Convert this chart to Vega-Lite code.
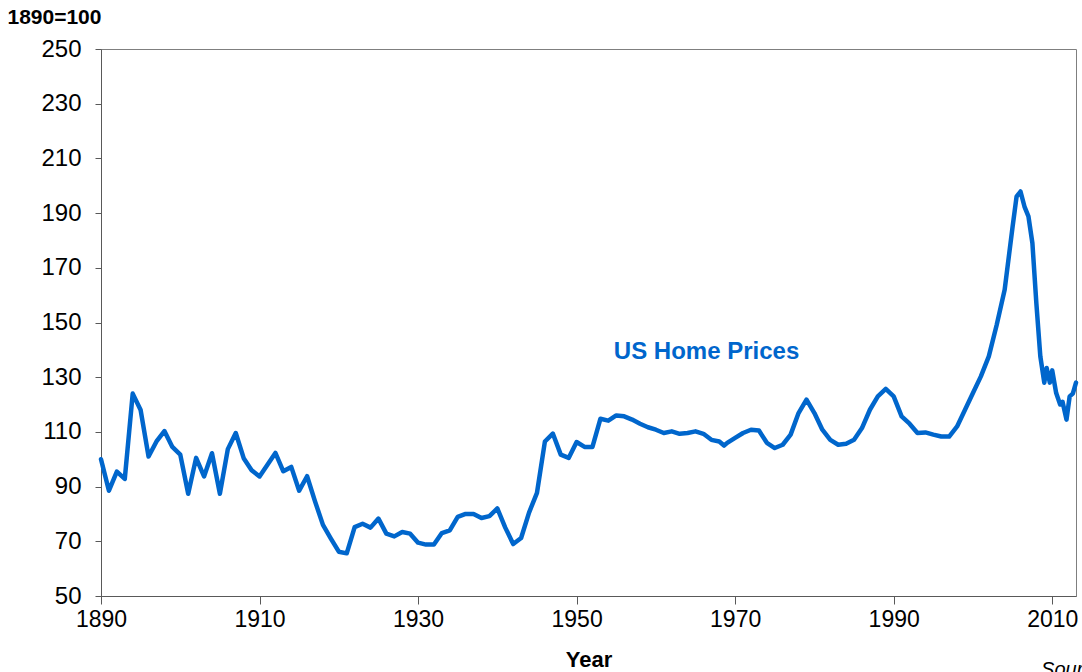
{
  "$schema": "https://vega.github.io/schema/vega-lite/v6.json",
  "width": 975,
  "height": 547,
  "autosize": {"type": "none"},
  "padding": {"left": 101, "top": 49, "right": 6, "bottom": 76},
  "background": "white",
  "config": {
    "view": {"stroke": "#7f7f7f", "strokeWidth": 1},
    "font": "Liberation Sans",
    "axis": {
      "grid": false,
      "domainColor": "#595959",
      "tickColor": "#595959",
      "labelColor": "#000000",
      "labelFont": "Liberation Sans",
      "labelFontSize": 23,
      "titleFont": "Liberation Sans",
      "titleColor": "#000000"
    }
  },
  "data": {
    "values": [
      {"year": 1890, "value": 100}, {"year": 1891, "value": 88.5}, {"year": 1892, "value": 95.5},
      {"year": 1893, "value": 92.8}, {"year": 1894, "value": 124}, {"year": 1895, "value": 118},
      {"year": 1896, "value": 101}, {"year": 1897, "value": 106.5}, {"year": 1898, "value": 110.3},
      {"year": 1899, "value": 104.5}, {"year": 1900, "value": 101.7}, {"year": 1901, "value": 87.4},
      {"year": 1902, "value": 100.5}, {"year": 1903, "value": 93.7}, {"year": 1904, "value": 102.2},
      {"year": 1905, "value": 87.4}, {"year": 1906, "value": 103.7}, {"year": 1907, "value": 109.6},
      {"year": 1908, "value": 100.4}, {"year": 1909, "value": 96}, {"year": 1910, "value": 93.7},
      {"year": 1911, "value": 98}, {"year": 1912, "value": 102.3}, {"year": 1913, "value": 95.6},
      {"year": 1914, "value": 97.2}, {"year": 1915, "value": 88.5}, {"year": 1916, "value": 93.8},
      {"year": 1917, "value": 84.6}, {"year": 1918, "value": 76}, {"year": 1919, "value": 71},
      {"year": 1920, "value": 66.2}, {"year": 1921, "value": 65.6}, {"year": 1922, "value": 75.2},
      {"year": 1923, "value": 76.4}, {"year": 1924, "value": 75}, {"year": 1925, "value": 78.3},
      {"year": 1926, "value": 72.8}, {"year": 1927, "value": 71.8}, {"year": 1928, "value": 73.4},
      {"year": 1929, "value": 72.8}, {"year": 1930, "value": 69.5}, {"year": 1931, "value": 68.8},
      {"year": 1932, "value": 68.8}, {"year": 1933, "value": 73}, {"year": 1934, "value": 74},
      {"year": 1935, "value": 78.9}, {"year": 1936, "value": 80}, {"year": 1937, "value": 80},
      {"year": 1938, "value": 78.5}, {"year": 1939, "value": 79.2}, {"year": 1940, "value": 82},
      {"year": 1941, "value": 75}, {"year": 1942, "value": 69}, {"year": 1943, "value": 71.2},
      {"year": 1944, "value": 80.5}, {"year": 1945, "value": 87.7}, {"year": 1946, "value": 106.5},
      {"year": 1947, "value": 109.4}, {"year": 1948, "value": 101.7}, {"year": 1949, "value": 100.5},
      {"year": 1950, "value": 106.3}, {"year": 1951, "value": 104.5}, {"year": 1952, "value": 104.5},
      {"year": 1953, "value": 114.8}, {"year": 1954, "value": 114.1}, {"year": 1955, "value": 116},
      {"year": 1956, "value": 115.7}, {"year": 1957, "value": 114.5}, {"year": 1958, "value": 113},
      {"year": 1959, "value": 111.7}, {"year": 1960, "value": 110.8}, {"year": 1961, "value": 109.6},
      {"year": 1962, "value": 110.2}, {"year": 1963, "value": 109.3}, {"year": 1964, "value": 109.6},
      {"year": 1965, "value": 110.2}, {"year": 1966, "value": 109.3}, {"year": 1967, "value": 107.1},
      {"year": 1968, "value": 106.5}, {"year": 1968.6, "value": 105}, {"year": 1969, "value": 106},
      {"year": 1970, "value": 107.8}, {"year": 1971, "value": 109.6}, {"year": 1972, "value": 110.8},
      {"year": 1973, "value": 110.5}, {"year": 1974, "value": 106}, {"year": 1975, "value": 104.1},
      {"year": 1976, "value": 105.3}, {"year": 1977, "value": 109}, {"year": 1978, "value": 116.9},
      {"year": 1979, "value": 121.8}, {"year": 1980, "value": 116.9}, {"year": 1981, "value": 110.8},
      {"year": 1982, "value": 107.1}, {"year": 1983, "value": 105.3}, {"year": 1984, "value": 105.7},
      {"year": 1985, "value": 107.1}, {"year": 1986, "value": 111.4}, {"year": 1987, "value": 118.1},
      {"year": 1988, "value": 123}, {"year": 1989, "value": 125.7}, {"year": 1990, "value": 123},
      {"year": 1991, "value": 115.7}, {"year": 1992, "value": 113}, {"year": 1993, "value": 109.6},
      {"year": 1994, "value": 109.8}, {"year": 1995, "value": 109}, {"year": 1996, "value": 108.3},
      {"year": 1997, "value": 108.3}, {"year": 1998, "value": 112}, {"year": 1999, "value": 118.1},
      {"year": 2000, "value": 124.2}, {"year": 2001, "value": 130.3}, {"year": 2002, "value": 137.6},
      {"year": 2003, "value": 149.2}, {"year": 2004, "value": 162}, {"year": 2005, "value": 185},
      {"year": 2005.5, "value": 196}, {"year": 2006, "value": 197.9}, {"year": 2006.5, "value": 192.4},
      {"year": 2007, "value": 188.8}, {"year": 2007.5, "value": 179}, {"year": 2008, "value": 157},
      {"year": 2008.5, "value": 137.6}, {"year": 2009, "value": 128}, {"year": 2009.3, "value": 133.4},
      {"year": 2009.7, "value": 128}, {"year": 2010, "value": 132.5}, {"year": 2010.5, "value": 124.2},
      {"year": 2011, "value": 120}, {"year": 2011.3, "value": 121}, {"year": 2011.8, "value": 114.5},
      {"year": 2012.2, "value": 123}, {"year": 2012.6, "value": 124}, {"year": 2013, "value": 128}
    ]
  },
  "layer": [
    {
      "mark": {"type": "line", "color": "#0066CC", "strokeWidth": 4.5, "strokeJoin": "round", "strokeCap": "round"},
      "encoding": {
        "x": {
          "field": "year", "type": "quantitative",
          "scale": {"domain": [1890, 2013], "nice": false, "zero": false},
          "axis": {
            "values": [1890, 1910, 1930, 1950, 1970, 1990, 2010],
            "format": "d",
            "tickSize": 8,
            "labelPadding": 4,
            "labelFlush": false,
            "labelBound": false,
            "labelOverlap": false,
            "title": "Year",
            "titleFontSize": 22,
            "titleFontWeight": "bold",
            "titlePadding": 18
          }
        },
        "y": {
          "field": "value", "type": "quantitative",
          "scale": {"domain": [50, 250], "nice": false, "zero": false},
          "axis": {
            "values": [50, 70, 90, 110, 130, 150, 170, 190, 210, 230, 250],
            "tickSize": 6,
            "labelPadding": 14,
            "labelFontSize": 24,
            "labelFlush": false,
            "labelOverlap": false,
            "title": null
          }
        }
      }
    },
    {
      "data": {"values": [{}]},
      "mark": {"type": "text", "align": "left", "baseline": "middle", "fontSize": 24, "fontWeight": "bold", "color": "#0066CC", "font": "Liberation Sans"},
      "encoding": {
        "x": {"datum": 1954.7, "type": "quantitative"},
        "y": {"datum": 139.3, "type": "quantitative"},
        "text": {"value": "US Home Prices"}
      }
    },
    {
      "data": {"values": [{}]},
      "mark": {"type": "text", "align": "left", "baseline": "middle", "fontSize": 21, "fontWeight": "bold", "color": "#000000", "font": "Liberation Sans"},
      "encoding": {
        "x": {"datum": 1878.2, "type": "quantitative"},
        "y": {"datum": 261.4, "type": "quantitative"},
        "text": {"value": "1890=100"}
      }
    },
    {
      "data": {"values": [{}]},
      "mark": {"type": "text", "align": "left", "baseline": "top", "fontSize": 20, "fontStyle": "italic", "color": "#000000", "font": "Liberation Sans"},
      "encoding": {
        "x": {"datum": 2008.6, "type": "quantitative"},
        "y": {"datum": 26.5, "type": "quantitative"},
        "text": {"value": "Source: Shiller"}
      }
    }
  ]
}
